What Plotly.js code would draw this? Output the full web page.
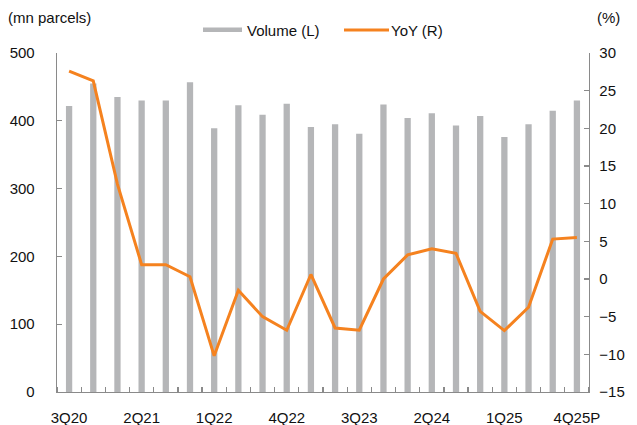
<!DOCTYPE html>
<html>
<head>
<meta charset="utf-8">
<script src="https://cdn.plot.ly/plotly-3.0.1.min.js"></script>
<style>
  html, body { margin: 0; padding: 0; background: #ffffff; }
  #chart { width: 637px; height: 425px; }
</style>
</head>
<body>
<div id="chart"></div>
<script>
// ---- Data ----
const quarters = ['3Q20','4Q20','1Q21','2Q21','3Q21','4Q21','1Q22','2Q22','3Q22','4Q22','1Q23','2Q23',
                  '3Q23','4Q23','1Q24','2Q24','3Q24','4Q24','1Q25','2Q25','3Q25','4Q25P'];
const volume = [422, 455, 435, 430, 430, 457, 389, 423, 409, 425, 391, 395,
                381, 424, 404, 411, 393, 407, 376, 395, 415, 430];
const yoy = [27.6, 26.3, 12.6, 1.9, 1.9, 0.3, -10.2, -1.5, -5.0, -6.8, 0.6, -6.5,
             -6.8, 0.0, 3.2, 4.0, 3.4, -4.3, -6.85, -3.75, 5.3, 5.5];
const tickEvery = 3;
const seriesNames = ['Volume (L)', 'YoY (R)'];
const leftUnit = '(mn parcels)';
const rightUnit = '(%)';

// ---- Derived ----
const xIdx = quarters.map((_, i) => i);
const tickvals = xIdx.filter(i => i % tickEvery === 0);
const ticktext = tickvals.map(i => quarters[i]);
const boundaries = quarters.map((_, i) => i - 0.5).concat([quarters.length - 0.5]);

const grey = '#b5b6b8';
const orange = '#f5821f';
const axisGrey = '#8a8a8a';
const fontFam = '"Liberation Sans", Arial, Helvetica, sans-serif';

const traces = [
  {
    type: 'bar', x: xIdx, y: volume, name: seriesNames[0],
    marker: { color: grey }, width: 0.26, yaxis: 'y', hoverinfo: 'skip'
  },
  {
    type: 'scatter', mode: 'lines', x: xIdx, y: yoy, name: seriesNames[1],
    line: { color: orange, width: 3 }, yaxis: 'y2', hoverinfo: 'skip'
  }
];

// plot area in px: left 57, right 589, top 53, bottom 392
const L = 57, R = 589, T = 53, B = 392;
const px = v => (v - L) / (R - L);
const py = v => (B - v) / (B - T);

const layout = {
  width: 637, height: 425,
  margin: { l: L, r: 637 - R, t: T, b: 425 - B, pad: 0 },
  paper_bgcolor: '#ffffff', plot_bgcolor: '#ffffff',
  font: { family: fontFam, size: 15, color: '#111111' },
  showlegend: false,
  xaxis: {
    range: [-0.5, quarters.length - 0.5],
    tickmode: 'array', tickvals: tickvals, ticktext: ticktext,
    ticks: '', showgrid: false, zeroline: false,
    showline: true, linecolor: axisGrey, linewidth: 1.3,
    ticklabelstandoff: 12,
    minor: { tickmode: 'array', tickvals: boundaries, ticks: 'inside', ticklen: 5, tickcolor: axisGrey, tickwidth: 1.3, showgrid: false },
    fixedrange: true
  },
  yaxis: {
    range: [0, 500], dtick: 100, tick0: 0,
    ticks: 'inside', ticklen: 5, tickcolor: axisGrey, tickwidth: 1.3,
    showline: true, linecolor: axisGrey, linewidth: 1.3,
    showgrid: false, zeroline: false,
    ticklabelstandoff: 18,
    fixedrange: true
  },
  yaxis2: {
    overlaying: 'y', side: 'right',
    range: [-15, 30], dtick: 5, tick0: 0,
    ticks: 'inside', ticklen: 5, tickcolor: axisGrey, tickwidth: 1.3,
    showline: true, linecolor: axisGrey, linewidth: 1.3,
    showgrid: false, zeroline: false,
    ticklabelstandoff: 6,
    fixedrange: true
  },
  shapes: [
    { type: 'rect', xref: 'paper', yref: 'paper', x0: px(203), x1: px(242), y0: py(32), y1: py(27.5),
      fillcolor: grey, line: { width: 0 } },
    { type: 'line', xref: 'paper', yref: 'paper', x0: px(344), x1: px(389), y0: py(30), y1: py(30),
      line: { color: orange, width: 3 } }
  ],
  annotations: [
    { text: seriesNames[0], xref: 'paper', yref: 'paper', x: px(245), y: py(30), xanchor: 'left', yanchor: 'middle', showarrow: false },
    { text: seriesNames[1], xref: 'paper', yref: 'paper', x: px(389), y: py(30), xanchor: 'left', yanchor: 'middle', showarrow: false },
    { text: leftUnit, xref: 'paper', yref: 'paper', x: px(6), y: py(17), xanchor: 'left', yanchor: 'middle', showarrow: false },
    { text: rightUnit, xref: 'paper', yref: 'paper', x: px(622), y: py(18), xanchor: 'right', yanchor: 'middle', showarrow: false }
  ]
};

Plotly.newPlot('chart', traces, layout, { displayModeBar: false, staticPlot: true });
</script>
</body>
</html>
